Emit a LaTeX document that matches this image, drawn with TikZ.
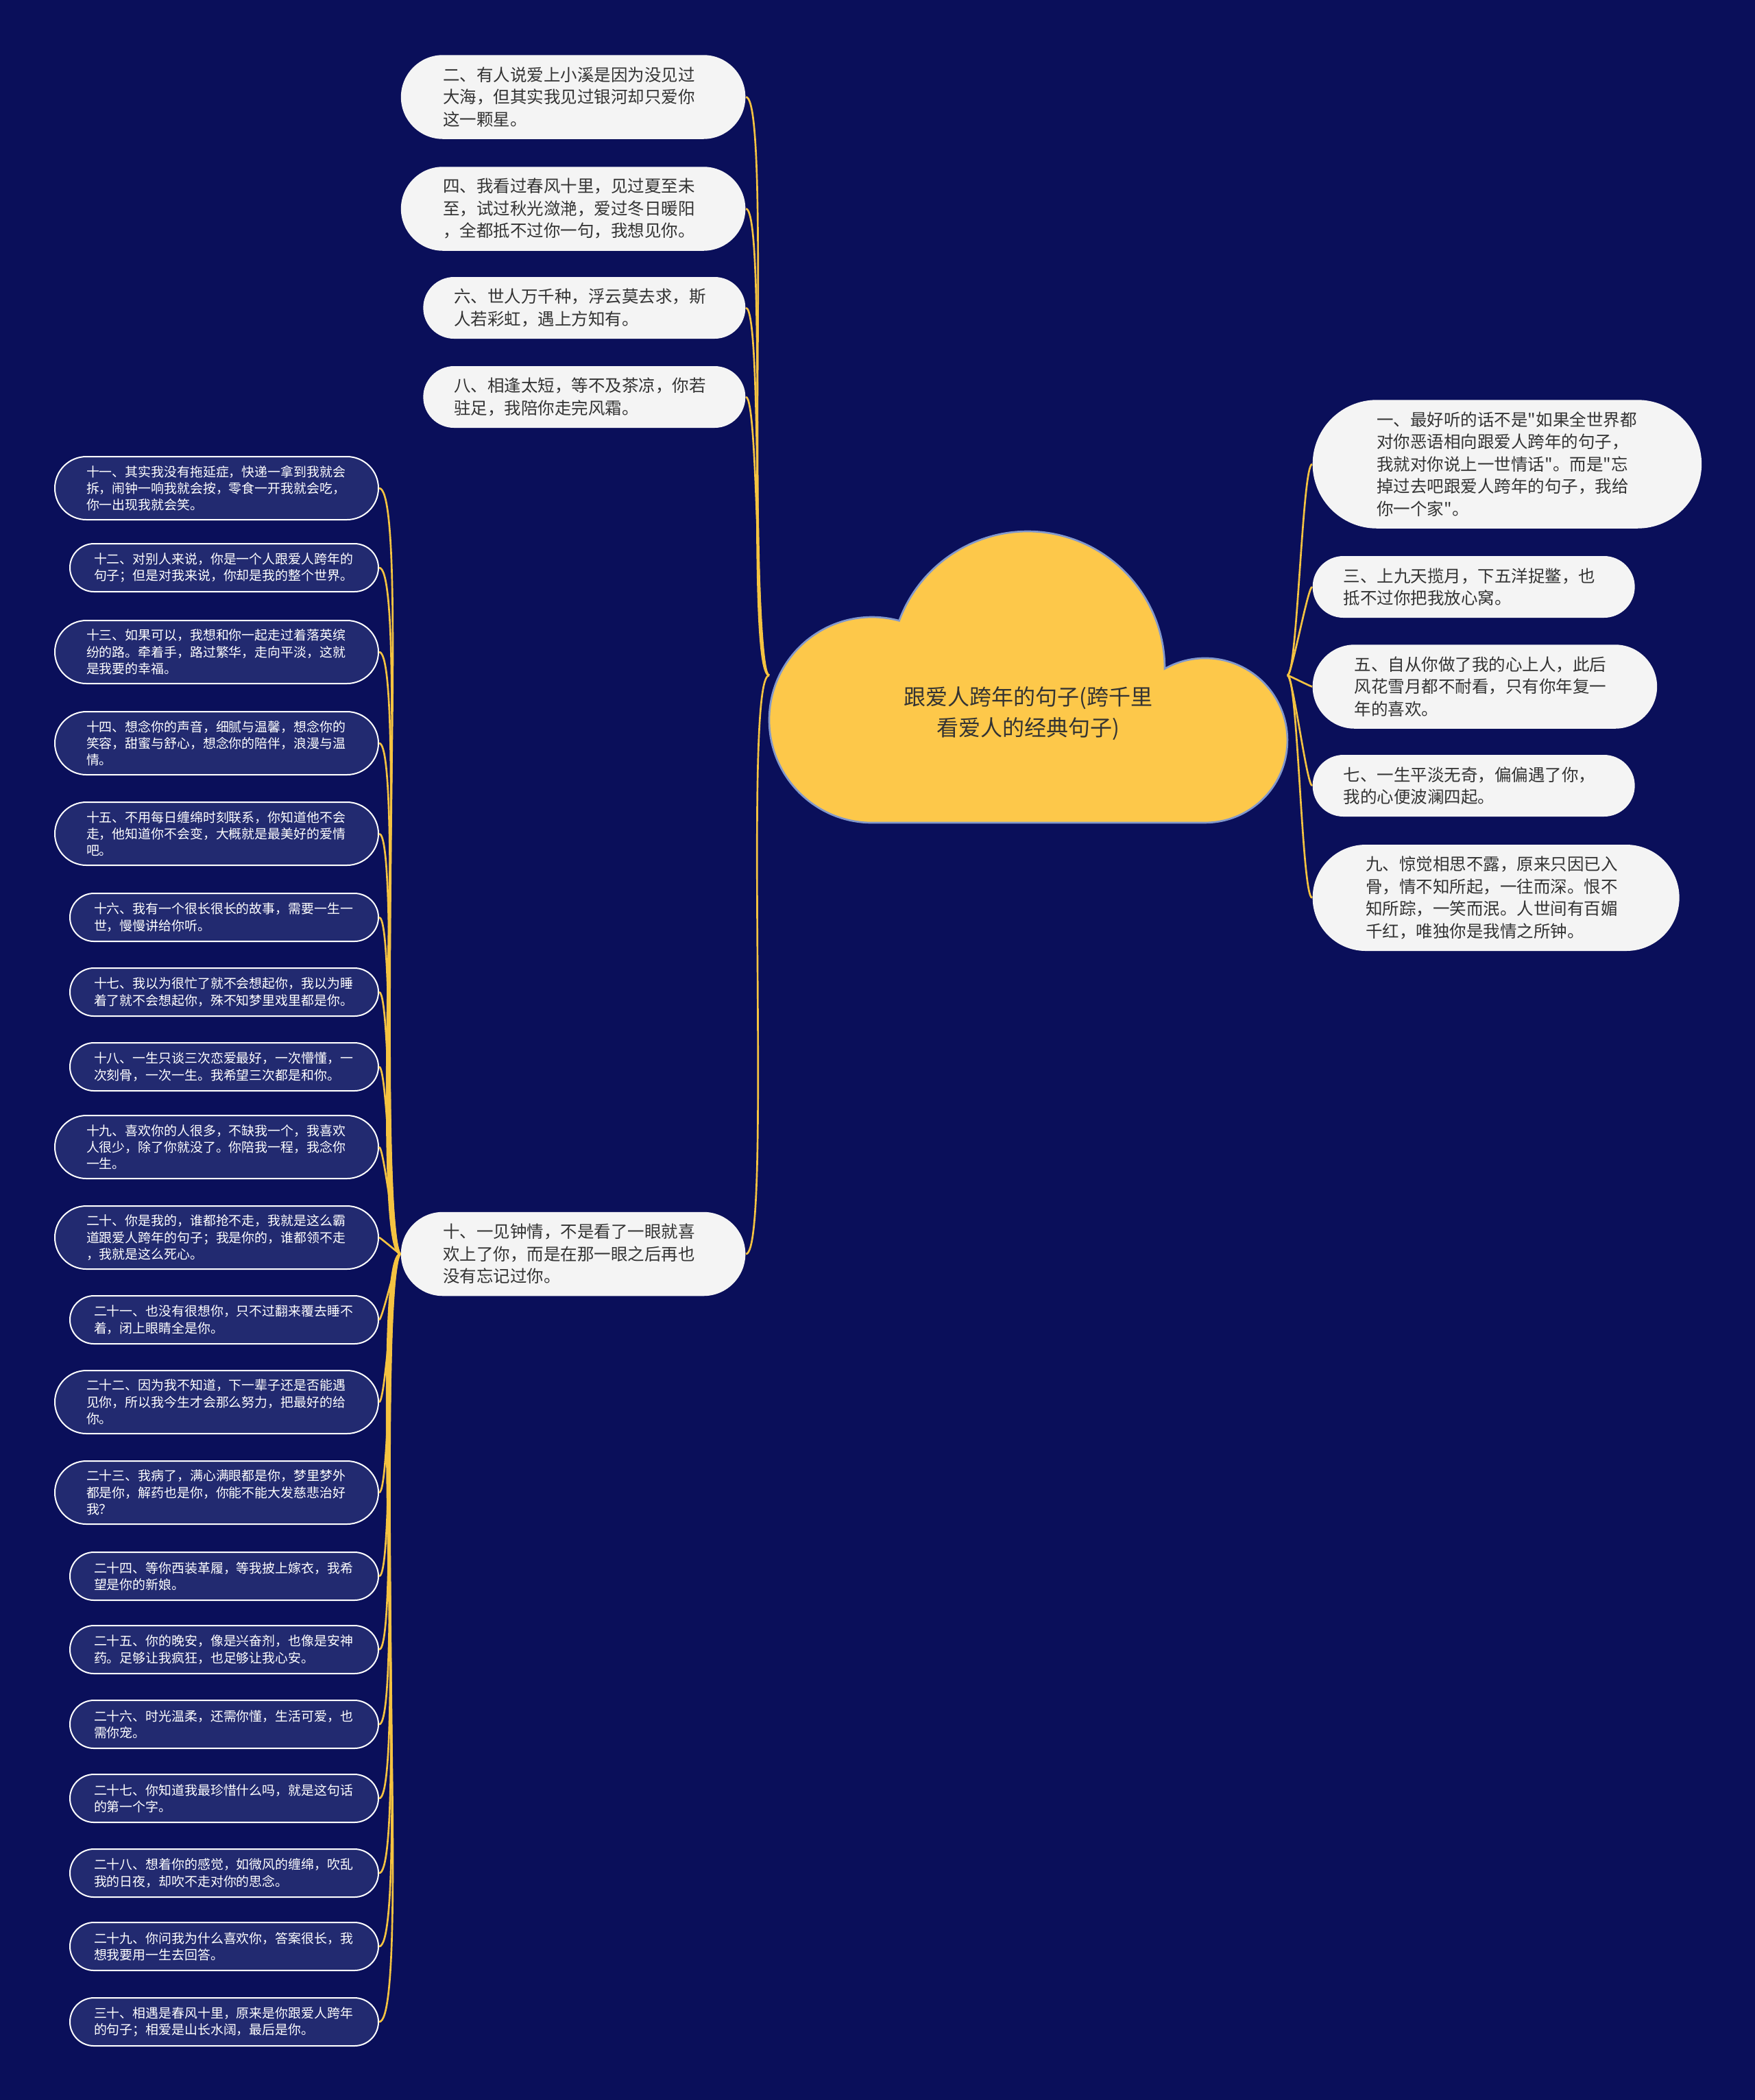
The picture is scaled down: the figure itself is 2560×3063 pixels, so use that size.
\documentclass[tikz,border=0pt]{standalone}
\usepackage{fontspec}
\newfontfamily\cjk{Noto Sans CJK SC}
\definecolor{navy}{HTML}{0A0F5A}
\definecolor{leafblue}{HTML}{222A70}
\definecolor{ideagray}{HTML}{F4F4F4}
\definecolor{ink}{HTML}{333333}
\definecolor{gold}{HTML}{F5C341}
\definecolor{cloudyellow}{HTML}{FDC84A}
\definecolor{cloudrim}{HTML}{8298CC}

\begin{document}
\begin{tikzpicture}[
  x=0.3pt, y=-0.3pt,
  idea/.style={rectangle, rounded corners=0.5*#1-0.01pt, fill=ideagray, text=ink, inner xsep=0.5*#1, inner ysep=0pt, text width=114pt, align=left, minimum height=#1, font=\cjk\fontsize{7.35pt}{9.75pt}\selectfont},
  idea/.default=27pt,
  leaf/.style={rectangle, rounded corners=0.5*#1-0.01pt, fill=leafblue, draw=white, line width=0.6pt, text=white, inner xsep=0.5*#1, inner ysep=0pt, text width=114pt, align=left, minimum height=#1, font=\cjk\fontsize{5.67pt}{7.3pt}\selectfont},
  leaf/.default=21pt,
  puff/.style={fill=cloudyellow, draw=cloudrim, line width=0.8pt},
  wire/.style={draw=gold, line width=0.8pt, looseness=0.12}
]
\fill[navy] (0,0) rectangle (2560,3063);
\useasboundingbox (0,0) rectangle (2560,3063);

\draw[puff] (1272,1200) arc[start angle=90, end angle=285.3, radius=150] arc[start angle=200.4, end angle=360.1, radius=200] arc[start angle=240.6, end angle=450, radius=120] -- cycle;
\node[align=center, text=ink, font=\cjk\fontsize{9.6pt}{13.5pt}\selectfont] (root) at (1500,1041) {跟爱人跨年的句子(跨千里\\看爱人的经典句子)};
\coordinate (rootL) at (1122,985);
\coordinate (rootR) at (1878,985);

\node[idea=36.75pt, anchor=east] (q2) at (1088,141.5) {二、有人说爱上小溪是因为没见过\\大海，但其实我见过银河却只爱你\\这一颗星。};
\node[idea=36.75pt, anchor=east] (q4) at (1088,304.5) {四、我看过春风十里，见过夏至未\\至，试过秋光潋滟，爱过冬日暖阳\\，全都抵不过你一句，我想见你。};
\node[idea, anchor=east] (q6) at (1088,449) {六、世人万千种，浮云莫去求，斯\\人若彩虹，遇上方知有。};
\node[idea, anchor=east] (q8) at (1088,579) {八、相逢太短，等不及茶凉，你若\\驻足，我陪你走完风霜。};
\node[idea=36.75pt, anchor=east] (q10) at (1088,1829) {十、一见钟情，不是看了一眼就喜\\欢上了你，而是在那一眼之后再也\\没有忘记过你。};

\node[idea=56.25pt, anchor=west] (q1) at (1914,677) {一、最好听的话不是"如果全世界都\\对你恶语相向跟爱人跨年的句子，\\我就对你说上一世情话"。而是"忘\\掉过去吧跟爱人跨年的句子，我给\\你一个家"。};
\node[idea, anchor=west] (q3) at (1914,856) {三、上九天揽月，下五洋捉鳖，也\\抵不过你把我放心窝。};
\node[idea=36.75pt, anchor=west] (q5) at (1914,1001.5) {五、自从你做了我的心上人，此后\\风花雪月都不耐看，只有你年复一\\年的喜欢。};
\node[idea, anchor=west] (q7) at (1914,1146) {七、一生平淡无奇，偏偏遇了你，\\我的心便波澜四起。};
\node[idea=46.5pt, anchor=west] (q9) at (1914,1309.5) {九、惊觉相思不露，原来只因已入\\骨，情不知所起，一往而深。恨不\\知所踪，一笑而泯。人世间有百媚\\千红，唯独你是我情之所钟。};

\node[leaf=27.6pt, anchor=east] (q11) at (553,712) {十一、其实我没有拖延症，快递一拿到我就会\\拆，闹钟一响我就会按，零食一开我就会吃，\\你一出现我就会笑。};
\node[leaf, anchor=east] (q12) at (553,828) {十二、对别人来说，你是一个人跟爱人跨年的\\句子；但是对我来说，你却是我的整个世界。};
\node[leaf=27.6pt, anchor=east] (q13) at (553,951) {十三、如果可以，我想和你一起走过着落英缤\\纷的路。牵着手，路过繁华，走向平淡，这就\\是我要的幸福。};
\node[leaf=27.6pt, anchor=east] (q14) at (553,1084) {十四、想念你的声音，细腻与温馨，想念你的\\笑容，甜蜜与舒心，想念你的陪伴，浪漫与温\\情。};
\node[leaf=27.6pt, anchor=east] (q15) at (553,1216) {十五、不用每日缠绵时刻联系，你知道他不会\\走，他知道你不会变，大概就是最美好的爱情\\吧。};
\node[leaf, anchor=east] (q16) at (553,1338) {十六、我有一个很长很长的故事，需要一生一\\世，慢慢讲给你听。};
\node[leaf, anchor=east] (q17) at (553,1447) {十七、我以为很忙了就不会想起你，我以为睡\\着了就不会想起你，殊不知梦里戏里都是你。};
\node[leaf, anchor=east] (q18) at (553,1556) {十八、一生只谈三次恋爱最好，一次懵懂，一\\次刻骨，一次一生。我希望三次都是和你。};
\node[leaf=27.6pt, anchor=east] (q19) at (553,1673) {十九、喜欢你的人很多，不缺我一个，我喜欢\\人很少，除了你就没了。你陪我一程，我念你\\一生。};
\node[leaf=27.6pt, anchor=east] (q20) at (553,1805) {二十、你是我的，谁都抢不走，我就是这么霸\\道跟爱人跨年的句子；我是你的，谁都领不走\\，我就是这么死心。};
\node[leaf, anchor=east] (q21) at (553,1925) {二十一、也没有很想你，只不过翻来覆去睡不\\着，闭上眼睛全是你。};
\node[leaf=27.6pt, anchor=east] (q22) at (553,2045) {二十二、因为我不知道，下一辈子还是否能遇\\见你，所以我今生才会那么努力，把最好的给\\你。};
\node[leaf=27.6pt, anchor=east] (q23) at (553,2177) {二十三、我病了，满心满眼都是你，梦里梦外\\都是你，解药也是你，你能不能大发慈悲治好\\我？};
\node[leaf, anchor=east] (q24) at (553,2299) {二十四、等你西装革履，等我披上嫁衣，我希\\望是你的新娘。};
\node[leaf, anchor=east] (q25) at (553,2406) {二十五、你的晚安，像是兴奋剂，也像是安神\\药。足够让我疯狂，也足够让我心安。};
\node[leaf, anchor=east] (q26) at (553,2515) {二十六、时光温柔，还需你懂，生活可爱，也\\需你宠。};
\node[leaf, anchor=east] (q27) at (553,2623) {二十七、你知道我最珍惜什么吗，就是这句话\\的第一个字。};
\node[leaf, anchor=east] (q28) at (553,2732) {二十八、想着你的感觉，如微风的缠绵，吹乱\\我的日夜，却吹不走对你的思念。};
\node[leaf, anchor=east] (q29) at (553,2839) {二十九、你问我为什么喜欢你，答案很长，我\\想我要用一生去回答。};
\node[leaf, anchor=east] (q30) at (553,2949) {三十、相遇是春风十里，原来是你跟爱人跨年\\的句子；相爱是山长水阔，最后是你。};

\draw[wire] (rootL) to[out=180,in=0] (q2.east);
\draw[wire] (rootL) to[out=180,in=0] (q4.east);
\draw[wire] (rootL) to[out=180,in=0] (q6.east);
\draw[wire] (rootL) to[out=180,in=0] (q8.east);
\draw[wire] (rootL) to[out=180,in=0] (q10.east);
\draw[wire] (rootR) to[out=0,in=180] (q1.west);
\draw[wire] (rootR) to[out=0,in=180] (q3.west);
\draw[wire] (rootR) to[out=0,in=180] (q5.west);
\draw[wire] (rootR) to[out=0,in=180] (q7.west);
\draw[wire] (rootR) to[out=0,in=180] (q9.west);
\draw[wire] (q10.west) to[out=180,in=0] (q11.east);
\draw[wire] (q10.west) to[out=180,in=0] (q12.east);
\draw[wire] (q10.west) to[out=180,in=0] (q13.east);
\draw[wire] (q10.west) to[out=180,in=0] (q14.east);
\draw[wire] (q10.west) to[out=180,in=0] (q15.east);
\draw[wire] (q10.west) to[out=180,in=0] (q16.east);
\draw[wire] (q10.west) to[out=180,in=0] (q17.east);
\draw[wire] (q10.west) to[out=180,in=0] (q18.east);
\draw[wire] (q10.west) to[out=180,in=0] (q19.east);
\draw[wire] (q10.west) to[out=180,in=0] (q20.east);
\draw[wire] (q10.west) to[out=180,in=0] (q21.east);
\draw[wire] (q10.west) to[out=180,in=0] (q22.east);
\draw[wire] (q10.west) to[out=180,in=0] (q23.east);
\draw[wire] (q10.west) to[out=180,in=0] (q24.east);
\draw[wire] (q10.west) to[out=180,in=0] (q25.east);
\draw[wire] (q10.west) to[out=180,in=0] (q26.east);
\draw[wire] (q10.west) to[out=180,in=0] (q27.east);
\draw[wire] (q10.west) to[out=180,in=0] (q28.east);
\draw[wire] (q10.west) to[out=180,in=0] (q29.east);
\draw[wire] (q10.west) to[out=180,in=0] (q30.east);
\end{tikzpicture}
\end{document}
